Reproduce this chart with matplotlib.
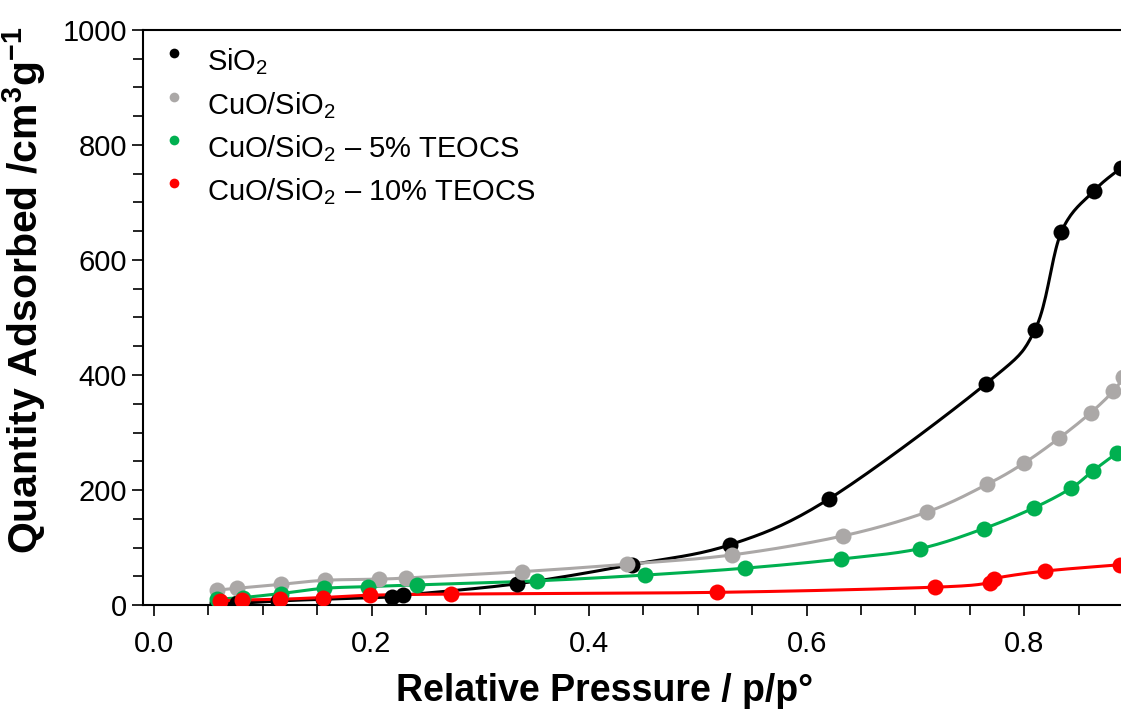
import matplotlib
matplotlib.use('Agg')
from matplotlib import pyplot as plt
from matplotlib.ticker import MultipleLocator, FormatStrFormatter
from matplotlib.legend_handler import HandlerLine2D
import numpy as np

plt.rcParams['font.family'] = ['Liberation Sans', 'DejaVu Sans']
plt.rcParams['mathtext.fontset'] = 'custom'
plt.rcParams['mathtext.rm'] = 'Liberation Sans'
plt.rcParams['mathtext.it'] = 'Liberation Sans:italic'
plt.rcParams['mathtext.bf'] = 'Liberation Sans:bold'

# data
sio2_x = [0.058, 0.076, 0.114, 0.155, 0.219, 0.229, 0.334, 0.439, 0.530, 0.621,
          0.765, 0.810, 0.834, 0.864, 0.889]
sio2_y = [4, 3, 7, 10, 14, 17, 37, 70, 105, 185, 385, 479, 648, 720, 760]

cuo_x = [0.058, 0.076, 0.117, 0.157, 0.207, 0.232, 0.338, 0.435, 0.531, 0.633,
         0.711, 0.766, 0.800, 0.832, 0.861, 0.882, 0.891]
cuo_y = [26, 29, 36, 43, 45, 47, 58, 71, 87, 120, 162, 210, 247, 290, 334, 372, 396]

teocs5_x = [0.058, 0.082, 0.117, 0.156, 0.197, 0.242, 0.352, 0.451, 0.543, 0.632,
            0.704, 0.763, 0.809, 0.843, 0.863, 0.885]
teocs5_y = [10, 13, 20, 29, 32, 35, 42, 52, 64, 80, 98, 133, 169, 203, 233, 264]

teocs10_x = [0.061, 0.081, 0.116, 0.155, 0.199, 0.273, 0.518, 0.718, 0.769, 0.772,
             0.819, 0.888]
teocs10_y = [7.5, 8.7, 10, 13, 17, 19, 22, 31, 39, 46, 59, 70]

series = [
    ('SiO$_2$', sio2_x, sio2_y, 'black'),
    ('CuO/SiO$_2$', cuo_x, cuo_y, '#aba8a7'),
    ('CuO/SiO$_2$ – 5% TEOCS', teocs5_x, teocs5_y, '#00b050'),
    ('CuO/SiO$_2$ – 10% TEOCS', teocs10_x, teocs10_y, '#ff0000'),
]


def smooth(x, y, n=20):
    # catmull-rom curve through the points, like excel smoothed lines
    p = np.column_stack([x, y]).astype(float)
    p = np.vstack([p[0], p, p[-1]])
    out = []
    t = np.linspace(0, 1, n, endpoint=False)
    for i in range(1, len(p) - 2):
        p0, p1, p2, p3 = p[i - 1], p[i], p[i + 1], p[i + 2]
        c = 0.5 * (2 * p1[:, None] + (-p0 + p2)[:, None] * t
                   + (2 * p0 - 5 * p1 + 4 * p2 - p3)[:, None] * t ** 2
                   + (-p0 + 3 * p1 - 3 * p2 + p3)[:, None] * t ** 3)
        out.append(c.T)
    out.append(p[-2][None, :])
    out = np.vstack(out)
    return out[:, 0], out[:, 1]


class RaisedMarker(HandlerLine2D):
    # legend dots sit a bit higher than the text, like the original
    def create_artists(self, legend, orig_handle, xdescent, ydescent, width,
                       height, fontsize, trans):
        arts = super().create_artists(legend, orig_handle, xdescent, ydescent,
                                      width, height, fontsize, trans)
        for a in arts:
            a.set_ydata(np.asarray(a.get_ydata()) + 0.25 * fontsize)
        return arts


fig = plt.figure(figsize=(11.21, 7.12), dpi=100)
ax = fig.add_axes([143 / 1121, 107 / 712, 1 - 143 / 1121, 575 / 712])

handles = []
for label, xs, ys, col in series:
    sx, sy = smooth(xs, ys)
    ax.plot(sx, sy, color=col, lw=2.2, zorder=2)
    ax.plot(xs, ys, 'o', color=col, ms=11.5, mec='none', zorder=3)
    h, = ax.plot([], [], 'o', color=col, ms=7, mec='none', label=label)
    handles.append(h)

ax.set_xlim(-0.0101, 0.889)
ax.set_ylim(0, 1000)
ax.xaxis.set_major_locator(MultipleLocator(0.2))
ax.xaxis.set_minor_locator(MultipleLocator(0.05))
ax.yaxis.set_major_locator(MultipleLocator(200))
ax.yaxis.set_minor_locator(MultipleLocator(50))
ax.xaxis.set_major_formatter(FormatStrFormatter('%.1f'))
ax.tick_params(which='both', direction='out', width=1.2, labelsize=21)
ax.tick_params(which='major', length=8)
ax.tick_params(which='minor', length=7)
ax.tick_params(axis='x', pad=10)
ax.spines['right'].set_visible(False)
for s in ['left', 'bottom', 'top']:
    ax.spines[s].set_linewidth(1.5)

ax.set_xlabel('Relative Pressure / p/p°', fontsize=27, fontweight='bold')
ax.xaxis.set_label_coords(0.4724, -0.118)
ax.set_ylabel('Quantity Adsorbed /cm$\\mathbf{^3}$g$\\mathbf{^{-1}}$', fontsize=29.5,
              fontweight='bold')
ax.yaxis.set_label_coords(-0.097, 0.548)

ax.legend(handles=handles, loc='upper left', bbox_to_anchor=(-0.006, 1.004), frameon=False,
          fontsize=21, handletextpad=0.55, labelspacing=0.43, borderaxespad=0.25,
          handlelength=1.2, handler_map={matplotlib.lines.Line2D: RaisedMarker()})

plt.savefig('out.png', dpi=100)
plt.close()
